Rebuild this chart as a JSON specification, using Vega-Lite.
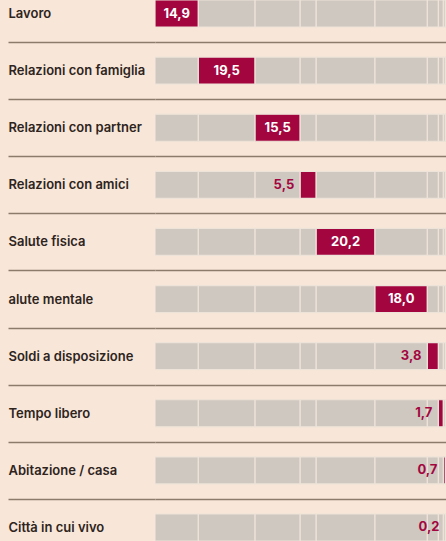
{
  "$schema": "https://vega.github.io/schema/vega-lite/v6.json",
  "width": 291,
  "height": 541,
  "autosize": {"type": "none"},
  "padding": {"left": 155, "top": 0, "right": 0, "bottom": 0},
  "background": "#f8e7d9",
  "data": {
    "values": [
      {"cat": "Lavoro", "value": 14.9, "order": 1},
      {"cat": "Relazioni con famiglia", "value": 19.5, "order": 2},
      {"cat": "Relazioni con partner", "value": 15.5, "order": 3},
      {"cat": "Relazioni con amici", "value": 5.5, "order": 4},
      {"cat": "Salute fisica", "value": 20.2, "order": 5},
      {"cat": "alute mentale", "value": 18.0, "order": 6},
      {"cat": "Soldi a disposizione", "value": 3.8, "order": 7},
      {"cat": "Tempo libero", "value": 1.7, "order": 8},
      {"cat": "Abitazione / casa", "value": 0.7, "order": 9},
      {"cat": "Città in cui vivo", "value": 0.2, "order": 10}
    ]
  },
  "transform": [
    {"stack": "value", "groupby": [], "sort": [{"field": "order", "order": "ascending"}], "as": ["start", "end"]}
  ],
  "encoding": {
    "y": {
      "field": "cat",
      "type": "nominal",
      "sort": ["Lavoro", "Relazioni con famiglia", "Relazioni con partner", "Relazioni con amici", "Salute fisica", "alute mentale", "Soldi a disposizione", "Tempo libero", "Abitazione / casa", "Città in cui vivo"],
      "scale": {"paddingInner": 0.527, "paddingOuter": 0},
      "axis": {
        "title": null,
        "domain": false,
        "ticks": true,
        "tickSize": 147,
        "tickColor": "#8c7a6b",
        "tickWidth": 1.5,
        "tickOffset": 28.55,
        "labelOffset": -28.55,
        "labelPadding": 0,
        "labelAlign": "left",
        "labelBaseline": "middle",
        "labelFont": "Inter",
        "labelFontSize": 13,
        "labelFontWeight": 600,
        "labelColor": "#2e241d",
        "labelLimit": 0,
        "grid": true,
        "gridColor": "#8c7a6b",
        "gridWidth": 1.5
      }
    }
  },
  "layer": [
    {
      "transform": [
        {"joinaggregate": [{"op": "values", "field": "cat", "as": "segs"}]},
        {"flatten": ["segs"]}
      ],
      "mark": {"type": "bar", "stroke": "#eee3d8", "strokeWidth": 1.2, "clip": true},
      "encoding": {
        "x": {"field": "segs.start", "type": "quantitative", "scale": {"domain": [0, 98.6], "clamp": true}, "axis": null},
        "x2": {"field": "segs.end"},
        "color": {
          "condition": {"test": "datum.segs.cat === datum.cat", "value": "#a3063f"},
          "value": "#cfc8c1"
        }
      }
    },
    {
      "transform": [
        {"filter": "datum.value >= 10"},
        {"calculate": "(datum.start + datum.end) / 2", "as": "mid"}
      ],
      "mark": {"type": "text", "font": "Inter", "fontSize": 13, "fontWeight": "bold", "color": "#ffffff", "align": "center", "baseline": "middle"},
      "encoding": {
        "x": {"field": "mid", "type": "quantitative"},
        "text": {"field": "value", "type": "quantitative", "format": ".1f"}
      }
    },
    {
      "transform": [{"filter": "datum.value < 10"}],
      "mark": {"type": "text", "font": "Inter", "fontSize": 13, "fontWeight": "bold", "color": "#a3063f", "align": "right", "baseline": "middle", "dx": -6},
      "encoding": {
        "x": {"field": "start", "type": "quantitative"},
        "text": {"field": "value", "type": "quantitative", "format": ".1f"}
      }
    }
  ],
  "config": {
    "view": {"stroke": null},
    "locale": {"number": {"decimal": ",", "thousands": ".", "grouping": [3], "currency": ["", " €"]}}
  }
}
